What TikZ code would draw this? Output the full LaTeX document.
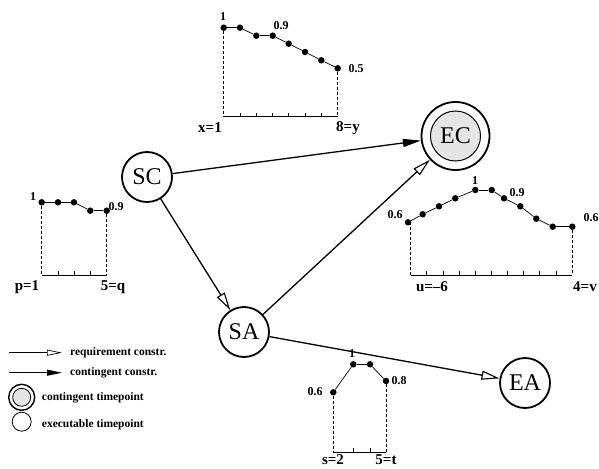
\documentclass[tikz,border=0pt]{standalone}
\usepackage{fontspec}
\setmainfont{Liberation Serif}
\usetikzlibrary{arrows.meta,calc}
\tikzset{
  tp/.style={circle,draw,line width=1.8pt,minimum size=50pt,inner sep=0pt,font=\fontsize{24}{24}\selectfont},
  ctp/.style={circle,draw,line width=1pt,fill=black!10,minimum size=50pt,inner sep=0pt,font=\fontsize{24}{24}\selectfont},
  ctpouter/.style={circle,draw,line width=1.8pt,minimum size=68pt,inner sep=0pt},
  req/.style={line width=1.3pt,-{Triangle[open,length=18pt,width=9pt,line width=1.1pt]}},
  cont/.style={line width=1.3pt,-{Triangle[length=18pt,width=8pt]}},
  dot/.style={circle,fill,inner sep=0pt,minimum size=6.5pt},
  pl/.style={line width=0.7pt},
  axisline/.style={line width=1pt},
  dsh/.style={dashed,line width=0.6pt,dash pattern=on 3pt off 2pt},
  val/.style={font=\fontsize{12}{12}\selectfont\bfseries,inner sep=1pt},
  axl/.style={font=\fontsize{15}{15}\selectfont\bfseries,inner sep=1pt},
  leg/.style={font=\fontsize{11.5}{11.5}\selectfont\bfseries,anchor=west,inner sep=0pt},
}
\begin{document}
\begin{tikzpicture}[x=1pt,y=-1pt]
\useasboundingbox (0,0) rectangle (599,468);

% main nodes
\node[tp] (SC) at (147,177) {SC};
\node[tp] (SA) at (244,332) {SA};
\node[tp] (EA) at (525,383) {EA};
\node[ctpouter] (ECo) at (455.5,136) {};
\node[ctp] (EC) at (455.5,136) {EC};

\draw[cont] (SC) -- (ECo);
\draw[req] (SC) -- (SA);
\draw[req] (SA) -- (ECo);
\draw[req] (SA) -- (EA);

% chart 1 (top)
\foreach \x/\y [count=\i] in {223.7/27.7,240/27.7,256.3/35.7,272.7/35.7,288.7/43.7,305/52,321.3/60.3,337.7/68.3}
  \node[dot] (a\i) at (\x,\y) {};
\foreach \i [evaluate=\i as \j using int(\i+1)] in {1,...,7} \draw[pl] (a\i) -- (a\j);
\coordinate (a0) at (223.7,116.7);
\coordinate (aE) at (337.7,116.7);
\draw[axisline] (a0) -- (aE);
\foreach \i in {2,...,7} \draw[axisline] (a\i |- a0) -- ++(0,-4);
\draw[dsh] (a1) -- (a0);
\draw[dsh] (a8) -- (aE);
\node[val] (a1l) at (223,17) {1};
\node[val] (a4l) at (281,26) {0.9};
\node[val] (a8l) at (356,69) {0.5};
\node[axl] (axl1) at (210,128) {x=1};
\node[axl] (axl2) at (348,128) {8=y};

% chart 2 (left)
\foreach \x/\y [count=\i] in {41.7/202.3,58/202.3,74/202.3,90.3/210.7,106.7/210.7}
  \node[dot] (b\i) at (\x,\y) {};
\foreach \i [evaluate=\i as \j using int(\i+1)] in {1,...,4} \draw[pl] (b\i) -- (b\j);
\coordinate (b0) at (41.7,275);
\coordinate (bE) at (106.7,275);
\draw[axisline] (b0) -- (bE);
\foreach \i in {2,...,4} \draw[axisline] (b\i |- b0) -- ++(0,-4);
\draw[dsh] (b1) -- (b0);
\draw[dsh] (b5) -- (bE);
\node[val] (b1l) at (33,197) {1};
\node[val] (b5l) at (116,207) {0.9};
\node[axl] (bxl1) at (27,287) {p=1};
\node[axl] (bxl2) at (113,287) {5=q};

% chart 3 (right)
\foreach \x/\y [count=\i] in {408/222.3,422.7/214.3,439/206.3,455.3/198.3,475.3/190,491.7/190,504/198.3,520.3/206.3,536.3/218.7,552.7/226.7,572.3/226.7}
  \node[dot] (c\i) at (\x,\y) {};
\foreach \i [evaluate=\i as \j using int(\i+1)] in {1,...,10} \draw[pl] (c\i) -- (c\j);
\coordinate (c0) at (410.7,275);
\coordinate (cE) at (572.3,275);
\draw[axisline] (c0) -- (cE);
\foreach \k in {1,...,9} \draw[axisline] ($(c0)!\k/10!(cE)$) -- ++(0,-4);
\draw[dsh] (c0) -- (c0 |- c1);
\draw[dsh] (c11) -- (cE);
\node[val] (c1l) at (395,215) {0.6};
\node[val] (c5l) at (475,181) {1};
\node[val] (c7l) at (517,193) {0.9};
\node[val] (c11l) at (591,218) {0.6};
\node[axl] (cxl1) at (432,287) {u=–6};
\node[axl,anchor=west] (cxl2) at (572,287) {4=v};

% chart 4 (bottom)
\foreach \x/\y [count=\i] in {333.3/392.3,353.3/364.3,370/364.3,386/381}
  \node[dot] (d\i) at (\x,\y) {};
\foreach \i [evaluate=\i as \j using int(\i+1)] in {1,...,3} \draw[pl] (d\i) -- (d\j);
\coordinate (d0) at (333.3,452.3);
\coordinate (dE) at (386,452.3);
\draw[axisline] (d0) -- (dE);
\foreach \i in {2,3} \draw[axisline] (d\i |- d0) -- ++(0,-4);
\draw[dsh] (d1) -- (d0);
\draw[dsh] (d4) -- (dE);
\node[val] (d1l) at (315,392) {0.6};
\node[val] (d2l) at (352,354) {1};
\node[val] (d4l) at (399,381) {0.8};
\node[axl,inner sep=0pt] (dxl1) at (333,459.5) {s=2};
\node[axl,inner sep=0pt] (dxl2) at (386,459.5) {5=t};

% legend
\coordinate (l1a) at (9,352.7);
\coordinate (l1b) at (62,352.7);
\coordinate (l2a) at (9,372.7);
\coordinate (l2b) at (62,372.7);
\draw[line width=0.8pt,-{Triangle[open,length=15pt,width=6pt,line width=0.7pt]}] (l1a) -- (l1b);
\draw[line width=0.8pt,-{Triangle[length=15pt,width=6pt]}] (l2a) -- (l2b);
\node[leg] (lt1) at (70,352.7) {requirement constr.};
\node[leg] (lt2) at (70,372.7) {contingent constr.};
\node[circle,draw,line width=1.4pt,minimum size=26pt,inner sep=0pt] (lc1o) at (21.7,397.3) {};
\node[circle,draw,line width=0.8pt,fill=black!10,minimum size=18pt,inner sep=0pt] (lc1) at (21.7,397.3) {};
\node[circle,draw,line width=0.8pt,minimum size=19pt,inner sep=0pt] (lc2) at (21.7,421.7) {};
\node[leg] (lt3) at (41.7,397.3) {contingent timepoint};
\node[leg] (lt4) at (41.7,425) {executable timepoint};
\end{tikzpicture}
\end{document}
